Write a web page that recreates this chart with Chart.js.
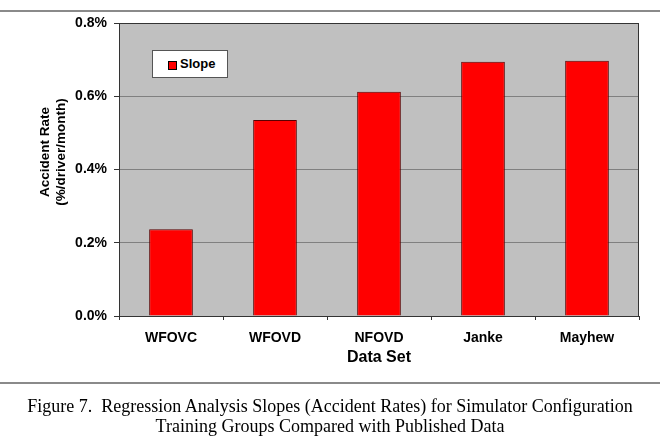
<!DOCTYPE html>
<html>
<head>
<meta charset="utf-8">
<script src="https://cdn.jsdelivr.net/npm/chart.js@4.4.0/dist/chart.umd.min.js"></script>
<style>
  body { margin: 0; background: #fff; }
  #wrap { position: relative; width: 660px; height: 437px; overflow: hidden; }
  #chart { position: absolute; left: 0; top: 0; }
  .rule { position: absolute; left: 0; width: 660px; height: 2px; background: #8a8a8a; }
  #legend {
    position: absolute; left: 152px; top: 50px; width: 74px; height: 26px;
    background: #fff; border: 1px solid #555;
    font: bold 13px "Liberation Sans", Arial, sans-serif; color: #000;
  }
  #legend .sw { position: absolute; left: 15px; top: 10px; width: 7px; height: 7px; background: #ff0000; border: 1px solid #000; }
  #legend .tx { position: absolute; left: 27px; top: 5px; }
  #caption {
    position: absolute; left: 0; top: 396px; width: 660px; text-align: center;
    font: 18px "Liberation Serif", "Times New Roman", serif; line-height: 20px; color: #000;
  }
</style>
</head>
<body>
<div id="wrap">
  <div class="rule" style="top:10px"></div>
  <canvas id="chart" width="660" height="437"></canvas>
  <div id="legend"><span class="sw"></span><span class="tx">Slope</span></div>
  <div class="rule" style="top:382px"></div>
  <div id="caption">Figure 7.&nbsp; Regression Analysis Slopes (Accident Rates) for Simulator Configuration<br>Training Groups Compared with Published Data</div>
</div>
<script>
// data (values in %/driver/month)
const categories = ['WFOVC', 'WFOVD', 'NFOVD', 'Janke', 'Mayhew'];
const slopes = [0.237, 0.535, 0.612, 0.694, 0.697];
const yTicks = [0, 0.2, 0.4, 0.6, 0.8];
const yTitle = ['Accident Rate', '(%/driver/month)'];

const arial = '"Liberation Sans", Arial, sans-serif';

// grey plot background, dark frame, and the y title (sits a bit above centre in the original)
const plotFrame = {
    id: 'plotFrame',
    beforeDraw(chart) {
        const a = chart.chartArea;
        const c = chart.ctx;
        c.save();
        c.fillStyle = '#c0c0c0';
        c.fillRect(a.left, a.top, a.right - a.left, a.bottom - a.top);
        c.restore();
    },
    afterDraw(chart) {
        const a = chart.chartArea;
        const c = chart.ctx;
        c.save();
        c.strokeStyle = '#333';
        c.lineWidth = 1;
        c.strokeRect(a.left + 0.5, a.top + 0.5, a.right - a.left - 1, a.bottom - a.top);

        c.fillStyle = '#000';
        c.font = 'bold 13.5px ' + arial;
        c.textAlign = 'center';
        c.textBaseline = 'middle';
        c.translate(45, 152);
        c.rotate(-Math.PI / 2);
        yTitle.forEach((t, i) => c.fillText(t, 0, i * 16.5));
        c.restore();
    }
};

let ctx = document.getElementById('chart').getContext('2d');
let slopeChart = new Chart(ctx, {
    type: 'bar',
    data: {
        labels: categories,
        datasets: [{
            label: 'Slope',
            data: slopes,
            backgroundColor: '#ff0000',
            borderColor: '#5a0000',
            borderWidth: 1,
            categoryPercentage: 1,
            barPercentage: 0.42
        }]
    },
    options: {
        responsive: false,
        animation: false,
        layout: { padding: { left: 33, right: 21, top: 23, bottom: 66 } },
        plugins: {
            legend: { display: false },
            tooltip: { enabled: false }
        },
        scales: {
            x: {
                afterFit(scale) { scale.height = 55; },
                grid: { display: true, drawOnChartArea: false, tickLength: 4, color: '#333' },
                border: { color: '#333' },
                ticks: { color: '#000', padding: 10, font: { family: arial, size: 14, weight: 'bold' } },
                title: { display: true, text: 'Data Set', color: '#000', font: { family: arial, size: 16, weight: 'bold' } }
            },
            y: {
                min: 0,
                max: 0.8,
                afterFit(scale) { scale.width = 86; },
                afterBuildTicks(scale) { scale.ticks = yTicks.map(v => ({ value: v })); },
                grid: { color: '#808080', tickLength: 5, tickColor: '#333' },
                border: { color: '#333' },
                ticks: {
                    color: '#000', padding: 7,
                    font: { family: arial, size: 14, weight: 'bold' },
                    callback: v => v.toFixed(1) + '%'
                }
            }
        }
    },
    plugins: [plotFrame]
});
</script>
</body>
</html>
